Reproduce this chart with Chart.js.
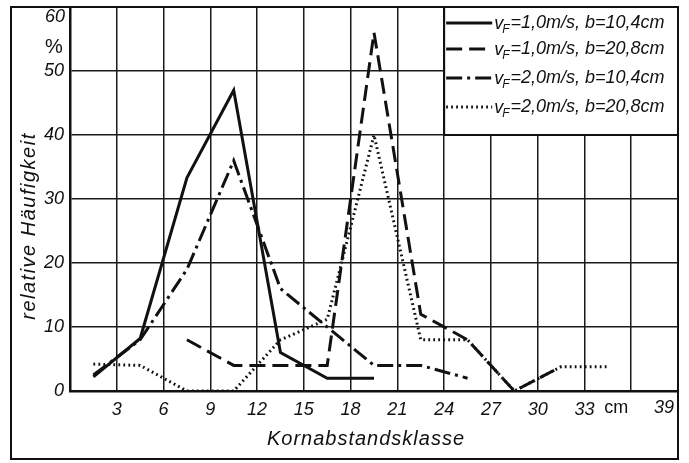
<!DOCTYPE html>
<html>
<head>
<meta charset="utf-8">
<script src="https://cdn.jsdelivr.net/npm/chart.js@4/dist/chart.umd.min.js"></script>
<style>
  html, body { margin: 0; padding: 0; background: #fff; }
  #wrap { width: 689px; height: 463px; }
</style>
</head>
<body>
<div id="wrap"><canvas id="chart" width="689" height="463"></canvas></div>
<script>
// class midpoints (cm) and relative frequency (%) per series
const classMid = [1.5, 4.5, 7.5, 10.5, 13.5, 16.5, 19.5, 22.5, 25.5, 28.5, 31.5, 34.5];
const v1b104 = [2.2, 8.2, 33.3, 47, 6, 2, 2, null, null, null, null, null];
const v1b208 = [null, null, 8, 4, 4, 4, 56, 12, 8, 0, 3.8, null];
const v2b104 = [2.5, 8, 19, 36, 16, 10, 4, 4, 2, null, null, null];
const v2b208 = [4.2, 4, 0, 0, 8, 11.2, 40, 8, 8, 0, 3.8, 3.8];

const xTickLabels = ['', '3', '6', '9', '12', '15', '18', '21', '24', '27', '30', '33', 'cm', '39'];
const yTickLabels = ['0', '10', '20', '30', '40', '50', '60'];

const legendLabels = [
  ['1,0m/s', '10,4cm'],
  ['1,0m/s', '20,8cm'],
  ['2,0m/s', '10,4cm'],
  ['2,0m/s', '20,8cm']
];

const FONT = 'Liberation Sans';

function pts(ys) {
  return classMid.map((x, i) => ({ x: x, y: ys[i] }));
}

const styles = [
  { borderDash: [] },
  { borderDash: [16, 7] },
  { borderDash: [16, 5, 3, 5] },
  { borderDash: [1.8, 3.2] }
];

const seriesData = [v1b104, v1b208, v2b104, v2b208];

const datasets = seriesData.map((ys, i) => ({
  label: 'v_F=' + legendLabels[i][0] + ', b=' + legendLabels[i][1],
  data: pts(ys),
  borderColor: '#111',
  borderWidth: 3,
  borderDash: styles[i].borderDash,
  pointRadius: 0,
  tension: 0,
  spanGaps: false,
  fill: false
}));

const decor = {
  id: 'decor',
  beforeDatasetsDraw(chart) {
    const ctx = chart.ctx;
    const xs = chart.scales.x, ys = chart.scales.y;
    const left = xs.getPixelForValue(24), right = xs.getPixelForValue(39);
    const top = ys.getPixelForValue(60), bottom = ys.getPixelForValue(40);
    ctx.save();
    ctx.fillStyle = '#fff';
    ctx.fillRect(left, top, right - left, bottom - top);
    ctx.strokeStyle = '#111';
    ctx.lineWidth = 2;
    ctx.strokeRect(left, top, right - left, bottom - top);

    const rowY = [23, 49, 78, 107];
    legendLabels.forEach((lab, i) => {
      const y = rowY[i];
      ctx.beginPath();
      ctx.setLineDash(styles[i].borderDash);
      ctx.lineWidth = 2.8;
      ctx.moveTo(left + 2, y);
      ctx.lineTo(left + 48, y);
      ctx.stroke();
      ctx.setLineDash([]);

      let x = left + 50;
      ctx.fillStyle = '#111';
      ctx.textBaseline = 'middle';
      ctx.textAlign = 'left';
      ctx.font = 'italic 18px "' + FONT + '"';
      ctx.fillText('v', x, y + 1);
      x += ctx.measureText('v').width;
      ctx.font = 'italic 12px "' + FONT + '"';
      ctx.fillText('F', x - 1, y + 7);
      x += ctx.measureText('F').width;
      ctx.font = 'italic 18px "' + FONT + '"';
      ctx.fillText('=' + lab[0] + ', b=' + lab[1], x, y);
    });
    ctx.restore();
  },
  afterDraw(chart) {
    const ctx = chart.ctx;
    const xs = chart.scales.x, ys = chart.scales.y;
    ctx.save();
    ctx.fillStyle = '#111';
    ctx.font = 'italic 18px "' + FONT + '"';
    ctx.textBaseline = 'middle';
    // top y label and unit
    ctx.textAlign = 'right';
    ctx.fillText(yTickLabels[6], 65, ys.getPixelForValue(60) + 10);
    ctx.textAlign = 'center';
    ctx.font = '20px "' + FONT + '"';
    ctx.fillText('%', 54, ys.getPixelForValue(60) + 40);
    // last x labels sit left of their grid lines
    ctx.font = '18px "' + FONT + '"';
    ctx.fillText(xTickLabels[12], xs.getPixelForValue(36) - 15, 408);
    ctx.font = 'italic 18px "' + FONT + '"';
    ctx.fillText(xTickLabels[13], xs.getPixelForValue(39) - 14, 408);
    // axis titles
    ctx.font = 'italic 20px "' + FONT + '"';
    ctx.letterSpacing = '1px';
    ctx.fillText('Kornabstandsklasse', 366, 439);
    ctx.translate(29, 226);
    ctx.rotate(-Math.PI / 2);
    ctx.font = 'italic 20px "' + FONT + '"';
    ctx.letterSpacing = '1.5px';
    ctx.fillText('relative Häufigkeit', 0, 0);
    ctx.restore();

    // outer frame
    ctx.save();
    ctx.strokeStyle = '#111';
    ctx.lineWidth = 2;
    ctx.strokeRect(11, chart.chartArea.top, chart.chartArea.right - 11, 459 - chart.chartArea.top);
    ctx.restore();
  }
};

new Chart(document.getElementById('chart'), {
  type: 'line',
  data: { datasets: datasets },
  plugins: [decor],
  options: {
    responsive: false,
    animation: false,
    devicePixelRatio: 1,
    layout: { padding: { left: 0, right: 11, top: 7, bottom: 0 } },
    plugins: {
      legend: { display: false },
      tooltip: { enabled: false }
    },
    scales: {
      x: {
        type: 'linear',
        min: 0,
        max: 39,
        ticks: {
          stepSize: 3,
          padding: 8,
          color: '#111',
          font: { family: FONT, size: 18, style: 'italic' },
          maxRotation: 0,
          callback: (v, i) => (i >= 12 ? '' : xTickLabels[i])
        },
        grid: { color: '#1a1a1a', lineWidth: 1.5, drawTicks: false },
        border: { display: true, color: '#111', width: 2.5 },
        afterFit: (s) => { s.height = 72; s.paddingLeft = 0; s.paddingRight = 0; }
      },
      y: {
        min: 0,
        max: 60,
        ticks: {
          stepSize: 10,
          padding: 6,
          color: '#111',
          font: { family: FONT, size: 18, style: 'italic' },
          callback: (v, i) => (i >= 6 ? '' : yTickLabels[i])
        },
        grid: { color: '#1a1a1a', lineWidth: 1.5, drawTicks: false },
        border: { display: true, color: '#111', width: 2.5 },
        afterFit: (s) => { s.width = 70; s.paddingTop = 0; s.paddingBottom = 0; }
      }
    }
  }
});
</script>
</body>
</html>
